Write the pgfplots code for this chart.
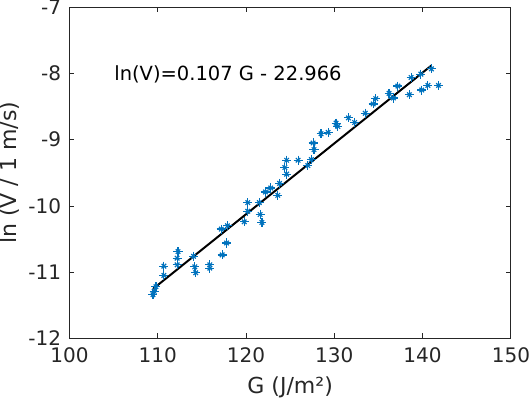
\documentclass[border=0pt]{standalone}
\usepackage{pgfplots}
\pgfplotsset{compat=1.18}
\usepackage{pgfplotstable}
\usepackage{fontspec}
\setmainfont{DejaVu Sans}
\definecolor{mblue}{HTML}{0072BD}
\definecolor{mgray}{HTML}{262626}

\pgfplotstableread{
G lnV
109.46 -11.34
109.6 -11.29
109.8 -11.22
110.7 -10.91
110.7 -11.05
112.3 -10.69
112.2 -10.79
112.2 -10.89
114.06 -10.76
114.2 -10.92
114.3 -11.01
115.9 -10.89
115.9 -10.94
117.2 -10.35
117.9 -10.30
117.8 -10.56
117.3 -10.74
119.8 -10.24
120.2 -9.95
120.2 -10.08
121.5 -9.95
121.6 -10.13
121.8 -10.25
122.2 -9.79
122.8 -9.73
123.6 -9.84
123.8 -9.66
124.4 -9.42
124.6 -9.31
124.6 -9.52
125.9 -9.31
127.0 -9.39
127.4 -9.30
127.6 -9.05
127.7 -9.15
128.5 -8.91
129.3 -8.89
130.2 -8.75
130.4 -8.80
131.6 -8.67
132.3 -8.74
133.5 -8.60
134.4 -8.46
134.7 -8.38
136.2 -8.30
136.7 -8.37
137.2 -8.19
138.5 -8.32
138.7 -8.06
139.8 -8.01
139.9 -8.25
140.6 -8.18
141.0 -7.93
141.8 -8.18
}\datatable

\begin{document}
\begin{tikzpicture}
\begin{axis}[
  scale only axis,
  width=330.75pt, height=248pt,
  xmin=100, xmax=150, ymin=-12, ymax=-7,
  xtick={100,110,...,150}, ytick={-12,-11,...,-7},
  tick align=inside,
  major tick length=3.75pt,
  axis line style={mgray, line width=0.6pt},
  every tick/.style={mgray, line width=0.6pt},
  tick label style={font=\fontsize{15}{18}\selectfont, text=mgray, inner sep=0pt},
  /pgf/number format/assume math mode=true,
  xticklabel style={yshift=-7pt},
  yticklabel style={xshift=-6pt},
  xlabel={G (J/m²)},
  ylabel={ln (V / 1 m/s)},
  label style={font=\fontsize{16.5}{20}\selectfont, text=mgray, inner sep=0pt},
  xlabel style={at={(axis description cs:0.5,-0.147)}, anchor=center},
  ylabel style={at={(axis description cs:-0.135,0.5)}, anchor=center},
  clip=false,
]
\addplot[only marks, mark=+, mark size=3.4pt, mblue, mark options={line width=0.9pt}] table[x=G, y=lnV] {\datatable};
\addplot[only marks, mark=x, mark size=2.4pt, mblue, mark options={line width=0.9pt}] table[x=G, y=lnV] {\datatable};
\addplot[black, line width=1.5pt] coordinates {(109.46,-11.254) (141.0,-7.879)};
\node[anchor=base west, inner sep=0pt, font=\fontsize{14.6}{17}\selectfont, text=black] at (axis cs:105.06,-8.11) {ln(V)=0.107 G - 22.966};
\end{axis}
\end{tikzpicture}
\end{document}
